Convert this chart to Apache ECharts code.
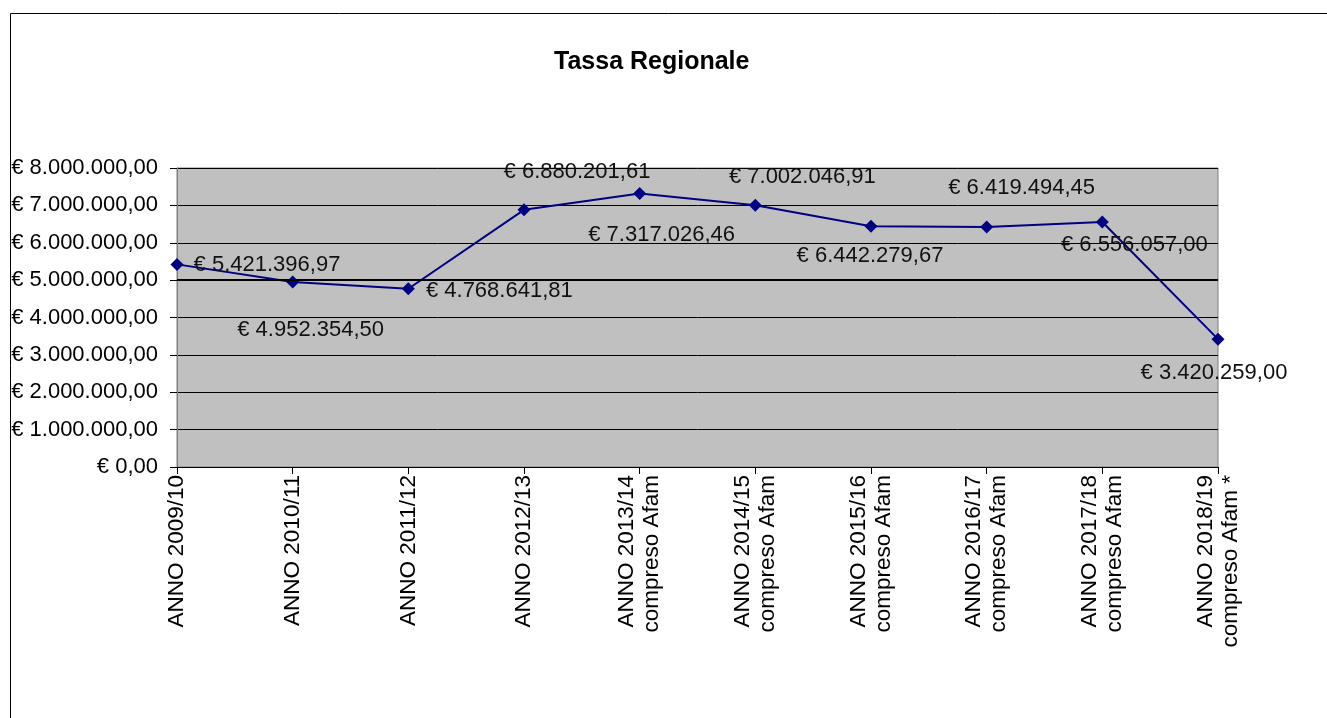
<!DOCTYPE html>
<html>
<head>
<meta charset="utf-8">
<title>Tassa Regionale</title>
<script src="https://cdn.jsdelivr.net/npm/echarts@6/dist/echarts.min.js"></script>
<style>
  html, body { margin: 0; padding: 0; background: #fff; }
  #demo { width: 1327px; height: 718px; }
</style>
</head>
<body>
<div id="demo"></div>
<script>
var anni = [
    'ANNO 2009/10',
    'ANNO 2010/11',
    'ANNO 2011/12',
    'ANNO 2012/13',
    'ANNO 2013/14\ncompreso Afam',
    'ANNO 2014/15\ncompreso Afam',
    'ANNO 2015/16\ncompreso Afam',
    'ANNO 2016/17\ncompreso Afam',
    'ANNO 2017/18\ncompreso Afam',
    'ANNO 2018/19\ncompreso Afam *'
];
var importi = [5421396.97, 4952354.50, 4768641.81, 6880201.61, 7317026.46,
               7002046.91, 6442279.67, 6419494.45, 6556057.00, 3420259.00];
// spostamento delle etichette rispetto al punto (come nel grafico originale)
var spostamenti = [[90, 1], [18, 48], [91, 2], [53, -38], [22, 41],
                   [47, -28], [-1, 30], [35, -39], [32, 23], [-4, 34]];
var tickValori = [0, 1000000, 2000000, 3000000, 4000000, 5000000, 6000000, 7000000, 8000000];

function euro(v) {
    var parti = v.toFixed(2).split('.');
    var intero = parti[0].replace(/\B(?=(\d{3})+(?!\d))/g, '.');
    return '€ ' + intero + ',' + parti[1];
}

var font = '"Liberation Sans", Arial, sans-serif';

var punti = [];
for (var i = 0; i < importi.length; i++) {
    punti.push({
        value: importi[i],
        label: { offset: spostamenti[i] }
    });
}

var mychar = echarts.init(document.getElementById('demo'));
mychar.setOption({
    animation: false,
    backgroundColor: '#fff',
    title: {
        text: 'Tassa Regionale',
        left: 549,
        top: 45,
        textStyle: { fontFamily: font, fontSize: 25, fontWeight: 'bold', color: '#000' }
    },
    graphic: [{
        type: 'polyline',
        shape: { points: [[10.5, 718], [10.5, 13.5], [1327, 13.5]] },
        style: { stroke: '#000', lineWidth: 1, fill: null },
        silent: true
    }],
    grid: {
        left: 177,
        right: 109,
        top: 168,
        bottom: 251,
        show: true,
        backgroundColor: '#C0C0C0',
        borderColor: '#808080',
        borderWidth: 1
    },
    xAxis: {
        type: 'category',
        data: anni,
        boundaryGap: false,
        axisLine: { lineStyle: { color: '#000', width: 1 } },
        axisTick: { show: true, length: 7, alignWithLabel: true, lineStyle: { color: '#000' } },
        axisLabel: {
            interval: 0,
            rotate: 90,
            margin: 8,
            fontFamily: font,
            fontSize: 22.5,
            lineHeight: 25,
            color: '#000'
        }
    },
    yAxis: {
        type: 'value',
        min: tickValori[0],
        max: tickValori[tickValori.length - 1],
        interval: 1000000,
        axisLine: { show: true, lineStyle: { color: '#808080' } },
        axisTick: { show: true, length: 7, lineStyle: { color: '#000' } },
        splitLine: { lineStyle: { color: '#000', width: 1 } },
        axisLabel: {
            margin: 19,
            fontFamily: font,
            fontSize: 22,
            color: '#000',
            formatter: function (v) { return euro(v); }
        }
    },
    series: [{
        name: 'Tassa Regionale',
        type: 'line',
        data: punti,
        symbol: 'diamond',
        symbolSize: 13,
        lineStyle: { color: '#000080', width: 2 },
        itemStyle: { color: '#000080' },
        label: {
            show: true,
            position: 'inside',
            fontFamily: font,
            fontSize: 22,
            color: '#111',
            formatter: function (p) { return euro(p.value); }
        },
        markLine: {
            silent: true,
            symbol: 'none',
            label: { show: false },
            lineStyle: { color: '#000', width: 2, type: 'solid' },
            data: [{ yAxis: tickValori[5] }]
        },
        z: 3
    }]
});
</script>
</body>
</html>
